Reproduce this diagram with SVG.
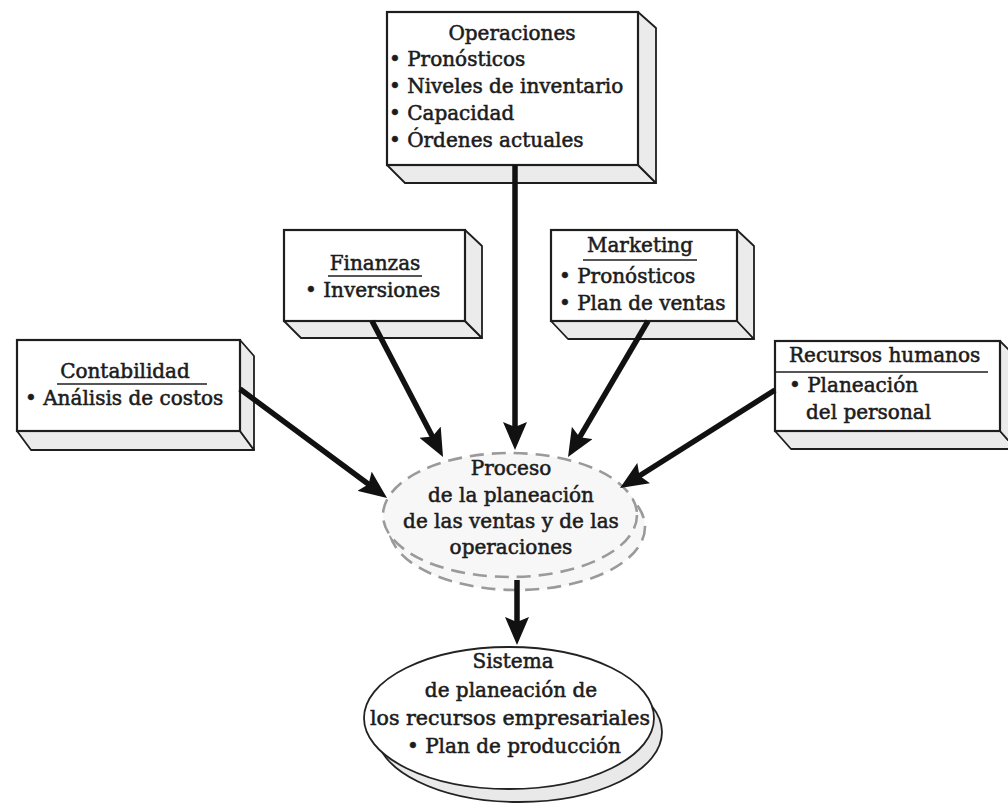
<svg xmlns="http://www.w3.org/2000/svg" width="1008" height="805" viewBox="0 0 1008 805">
<defs>
<style>
.front{fill:#ffffff;stroke:#1e1e1e;stroke-width:2.2}
.face{fill:#ebebeb;stroke:#1e1e1e;stroke-width:1.8;stroke-linejoin:round}
.t{font-family:"DejaVu Serif","Liberation Serif",serif;font-size:20px;fill:#1c1c1c;stroke:#1c1c1c;stroke-width:0.55}
.c{text-anchor:middle}
.ul{stroke:#1e1e1e;stroke-width:1.6}
.arr{stroke:#111;stroke-width:5.5;fill:none}
.dash{fill:#f7f7f7;stroke:#9a9a9a;stroke-width:2.6;stroke-dasharray:14 8}
.ell{stroke:#222;stroke-width:1.8}
</style>
<marker id="ah" viewBox="0 0 28 24" refX="18" refY="12" markerWidth="28" markerHeight="24" markerUnits="userSpaceOnUse" orient="auto">
<path d="M0,0 L28,12 L0,24 L5,12 z" fill="#111"/>
</marker>
</defs>

<g id="operaciones">
<polygon class="face" points="387,165 638,165 656,183 405,183"/>
<polygon class="face" points="638,12 656,28 656,183 638,165"/>
<rect class="front" x="387" y="12" width="251" height="153"/>
<text class="t c" x="512" y="40">Operaciones</text>
<text class="t" x="389" y="66">• Pronósticos</text>
<text class="t" x="389" y="93">• Niveles de inventario</text>
<text class="t" x="389" y="120">• Capacidad</text>
<text class="t" x="389" y="147">• Órdenes actuales</text>
</g>

<g id="finanzas">
<polygon class="face" points="284,321 465,321 482,338 301,338"/>
<polygon class="face" points="465,230 482,246 482,338 465,321"/>
<rect class="front" x="284" y="230" width="181" height="91"/>
<text class="t c" x="375" y="270">Finanzas</text>
<line class="ul" x1="328" y1="276" x2="422" y2="276"/>
<text class="t" x="305" y="297">• Inversiones</text>
</g>

<g id="marketing">
<polygon class="face" points="551,321 737,321 754,339 568,339"/>
<polygon class="face" points="737,230 754,246 754,339 737,321"/>
<rect class="front" x="551" y="230" width="186" height="91"/>
<text class="t c" x="640" y="252">Marketing</text>
<line class="ul" x1="583" y1="260" x2="697" y2="260"/>
<text class="t" x="559" y="283">• Pronósticos</text>
<text class="t" x="559" y="310">• Plan de ventas</text>
</g>

<g id="contabilidad">
<polygon class="face" points="17,431 240,431 254,450 31,450"/>
<polygon class="face" points="240,340 254,356 254,450 240,431"/>
<rect class="front" x="17" y="340" width="223" height="91"/>
<text class="t c" x="125" y="378">Contabilidad</text>
<line class="ul" x1="57" y1="384" x2="207" y2="384"/>
<text class="t" x="25" y="405">• Análisis de costos</text>
</g>

<g id="recursos">
<polygon class="face" points="775,431 1000,431 1016,449 791,449"/>
<polygon class="face" points="1000,341 1016,357 1016,449 1000,431"/>
<rect class="front" x="775" y="341" width="225" height="90"/>
<text class="t" x="789" y="362">Recursos humanos</text>
<line class="ul" x1="775" y1="372" x2="988" y2="372"/>
<text class="t" x="789" y="392">• Planeación</text>
<text class="t" x="806" y="419">del personal</text>
</g>

<g id="proceso">
<ellipse class="dash" cx="517" cy="527" rx="128" ry="63"/>
<ellipse class="dash" cx="510" cy="515" rx="127" ry="62"/>
<text class="t c" x="511" y="475">Proceso</text>
<text class="t c" x="511" y="502">de la planeación</text>
<text class="t c" x="511" y="528">de las ventas y de las</text>
<text class="t c" x="511" y="554">operaciones</text>
</g>

<g id="sistema">
<ellipse class="ell" cx="519" cy="732" rx="143" ry="70" fill="#e9e9e9"/>
<ellipse class="ell" cx="509" cy="718" rx="145" ry="71" fill="#ffffff"/>
<text class="t c" x="513" y="668">Sistema</text>
<text class="t c" x="511" y="697">de planeación de</text>
<text class="t" x="370" y="725" textLength="280" lengthAdjust="spacingAndGlyphs">los recursos empresariales</text>
<text class="t c" x="514" y="753">• Plan de producción</text>
</g>

<g id="connectors">
<line class="arr" x1="515" y1="165" x2="515" y2="440" marker-end="url(#ah)"/>
<line class="arr" x1="372" y1="321" x2="438.4" y2="448.1" marker-end="url(#ah)"/>
<line class="arr" x1="648" y1="321" x2="573.1" y2="448.4" marker-end="url(#ah)"/>
<line class="arr" x1="240" y1="389" x2="379" y2="492" marker-end="url(#ah)"/>
<line class="arr" x1="775" y1="390" x2="628.5" y2="482.7" marker-end="url(#ah)"/>
<line class="arr" x1="517" y1="580" x2="517" y2="635" marker-end="url(#ah)"/>
</g>
</svg>
